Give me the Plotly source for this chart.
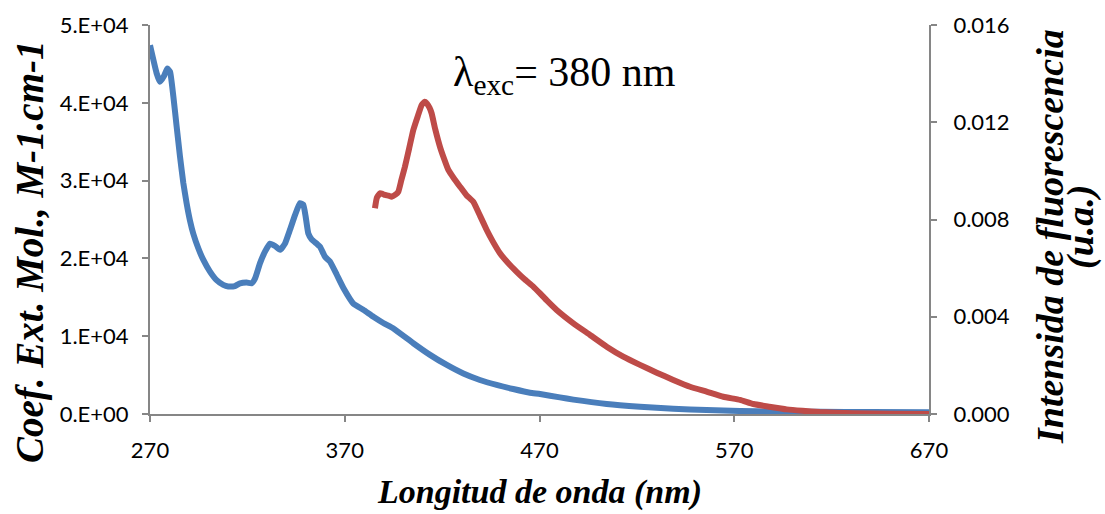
import plotly.graph_objects as go

# Absorption spectrum: molar extinction coefficient (M-1 cm-1) vs wavelength (nm)
abs_wavelength = [270, 273.4, 275.1, 277.1, 278.9, 280.3, 282.0, 283.7, 285.4, 287.1,
                  288.8, 290.5, 292.2, 294.8, 297.4, 300.8, 304.2, 307.6, 310.2, 313.6,
                  316.2, 319.6, 322.2, 323.9, 326.5, 329.1, 331.6, 334.2, 336.8, 339.3,
                  341.9, 344.5, 347.0, 348.7, 349.9, 351.3, 353.0, 355.6, 357.3, 359.9,
                  362.4, 365.9, 369.3, 374.4, 379.5, 384.7, 389.8, 395.0, 405.2, 413.8,
                  422.4, 430.9, 439.4, 448.0, 456.5, 465.1, 470.3, 480.5, 487.4, 504.5,
                  521.6, 538.7, 555.8, 573.0, 590.0, 614.0, 640.0, 670.0]
abs_coef = [47400, 43800, 42700, 43400, 44400, 44000, 40800, 36900, 33100, 29700,
            27100, 24900, 23200, 21300, 19800, 18300, 17200, 16600, 16400, 16450,
            16800, 16900, 16800, 17400, 19400, 20900, 21900, 21600, 21100, 21900,
            23700, 25600, 27100, 26900, 25400, 23200, 22450, 21900, 21500, 20200,
            19600, 17900, 16200, 14200, 13400, 12500, 11700, 11000, 9100, 7600,
            6300, 5200, 4370, 3730, 3210, 2740, 2570, 2140, 1850, 1290,
            940, 680, 510, 380, 320, 280, 260, 240]

# Fluorescence emission spectrum (excitation at 380 nm)
em_wavelength = [385.5, 386.5, 388.1, 389.5, 390.7, 392.5, 394.1, 396.0, 397.5, 399.0,
                 400.9, 403.0, 405.2, 407.5, 409.5, 411.0, 412.1, 413.5, 414.6, 416.5,
                 418.9, 421.0, 423.2, 426.0, 429.2, 432.5, 436.0, 439.5, 442.9, 446.0,
                 449.7, 454.0, 458.3, 462.5, 466.8, 470.3, 474.0, 478.8, 487.4, 496.0,
                 504.5, 513.0, 521.6, 530.2, 538.7, 547.3, 555.8, 564.4, 573.0, 579.8,
                 588.0, 596.9, 605.0, 614.0, 631.1, 650.0, 670.0]
em_intensity = [0.00846, 0.00890, 0.00908, 0.00905, 0.00901, 0.00898, 0.00894, 0.00902, 0.00914, 0.00960,
                0.01017, 0.01090, 0.01168, 0.01225, 0.01271, 0.01284, 0.01278, 0.01260, 0.01237, 0.01170,
                0.01099, 0.01050, 0.01004, 0.00970, 0.00935, 0.00900, 0.00873, 0.00815, 0.00757, 0.00710,
                0.00661, 0.00620, 0.00585, 0.00553, 0.00524, 0.00496, 0.00465, 0.00428, 0.00373, 0.00325,
                0.00277, 0.00236, 0.00202, 0.00170, 0.00140, 0.00112, 0.00092, 0.00071, 0.00058, 0.00041,
                0.00030, 0.00019, 0.00013, 0.00008, 0.00003, 0.00001, 0.00000]

# Axis ticks
x_ticks = [270, 370, 470, 570, 670]
left_ticks = [0, 10000, 20000, 30000, 40000, 50000]
left_tick_labels = ["0.E+00", "1.E+04", "2.E+04", "3.E+04", "4.E+04", "5.E+04"]
right_ticks = [0, 0.004, 0.008, 0.012, 0.016]
right_tick_labels = ["0.000", "0.004", "0.008", "0.012", "0.016"]

AXIS_GREY = "#868686"
TICK_FONT = dict(family="Lato, Open Sans, sans-serif", size=22, color="#000000")
TITLE_FONT = "Liberation Serif, Times New Roman, serif"

fig = go.Figure()
fig.add_trace(go.Scatter(
    x=abs_wavelength, y=abs_coef, mode="lines", yaxis="y",
    line=dict(color="#4A7EBB", width=6, shape="spline", smoothing=0.4),
    showlegend=False,
))
fig.add_trace(go.Scatter(
    x=em_wavelength, y=em_intensity, mode="lines", yaxis="y2",
    line=dict(color="#BE4B48", width=6, shape="spline", smoothing=0.4),
    showlegend=False,
))

fig.update_layout(
    width=1105, height=514,
    margin=dict(l=150, r=176, t=25, b=100),
    plot_bgcolor="white", paper_bgcolor="white",
    xaxis=dict(
        range=[270, 670], tickvals=x_ticks, ticktext=[str(v) for v in x_ticks],
        showgrid=False, zeroline=False, showline=True, linecolor=AXIS_GREY, linewidth=2,
        ticks="outside", ticklen=6, tickwidth=2, tickcolor=AXIS_GREY,
        tickfont=TICK_FONT, ticklabelstandoff=10,
    ),
    yaxis=dict(
        range=[0, 50000], tickvals=left_ticks, ticktext=left_tick_labels,
        showgrid=False, zeroline=False, showline=True, linecolor=AXIS_GREY, linewidth=2,
        ticks="outside", ticklen=6, tickwidth=2, tickcolor=AXIS_GREY,
        tickfont=TICK_FONT, ticklabelstandoff=9,
    ),
    yaxis2=dict(
        range=[0, 0.016], tickvals=right_ticks, ticktext=right_tick_labels,
        overlaying="y", side="right", anchor="x",
        showgrid=False, zeroline=False, showline=True, linecolor=AXIS_GREY, linewidth=2,
        ticks="outside", ticklen=6, tickwidth=2, tickcolor=AXIS_GREY,
        tickfont=TICK_FONT, ticklabelstandoff=12,
    ),
)

title_font = dict(family=TITLE_FONT, size=39, color="#000000")
annotations = [
    dict(text="<b><i>Coef. Ext. Mol., M-1.cm-1</i></b>", x=-0.154, y=0.4165,
         textangle=-90, font=title_font),
    dict(text="<b><i>Intensida de fluorescencia</i></b>", x=1.1553, y=0.4576,
         textangle=-90, font=dict(family=TITLE_FONT, size=38, color="#000000")),
    dict(text="<b><i>(u.a.)</i></b>", x=1.1938, y=0.4807,
         textangle=-90, font=dict(family=TITLE_FONT, size=38, color="#000000")),
    dict(text="<b><i>Longitud de onda (nm)</i></b>", x=0.5, y=-0.2,
         font=dict(family=TITLE_FONT, size=34, color="#000000")),
    dict(text="λ<sub>exc</sub>= 380 nm", x=0.5327, y=0.871,
         font=dict(family=TITLE_FONT, size=42, color="#000000")),
]
for a in annotations:
    fig.add_annotation(xref="paper", yref="paper", showarrow=False,
                       xanchor="center", yanchor="middle", **a)

fig.write_html("out.html")
